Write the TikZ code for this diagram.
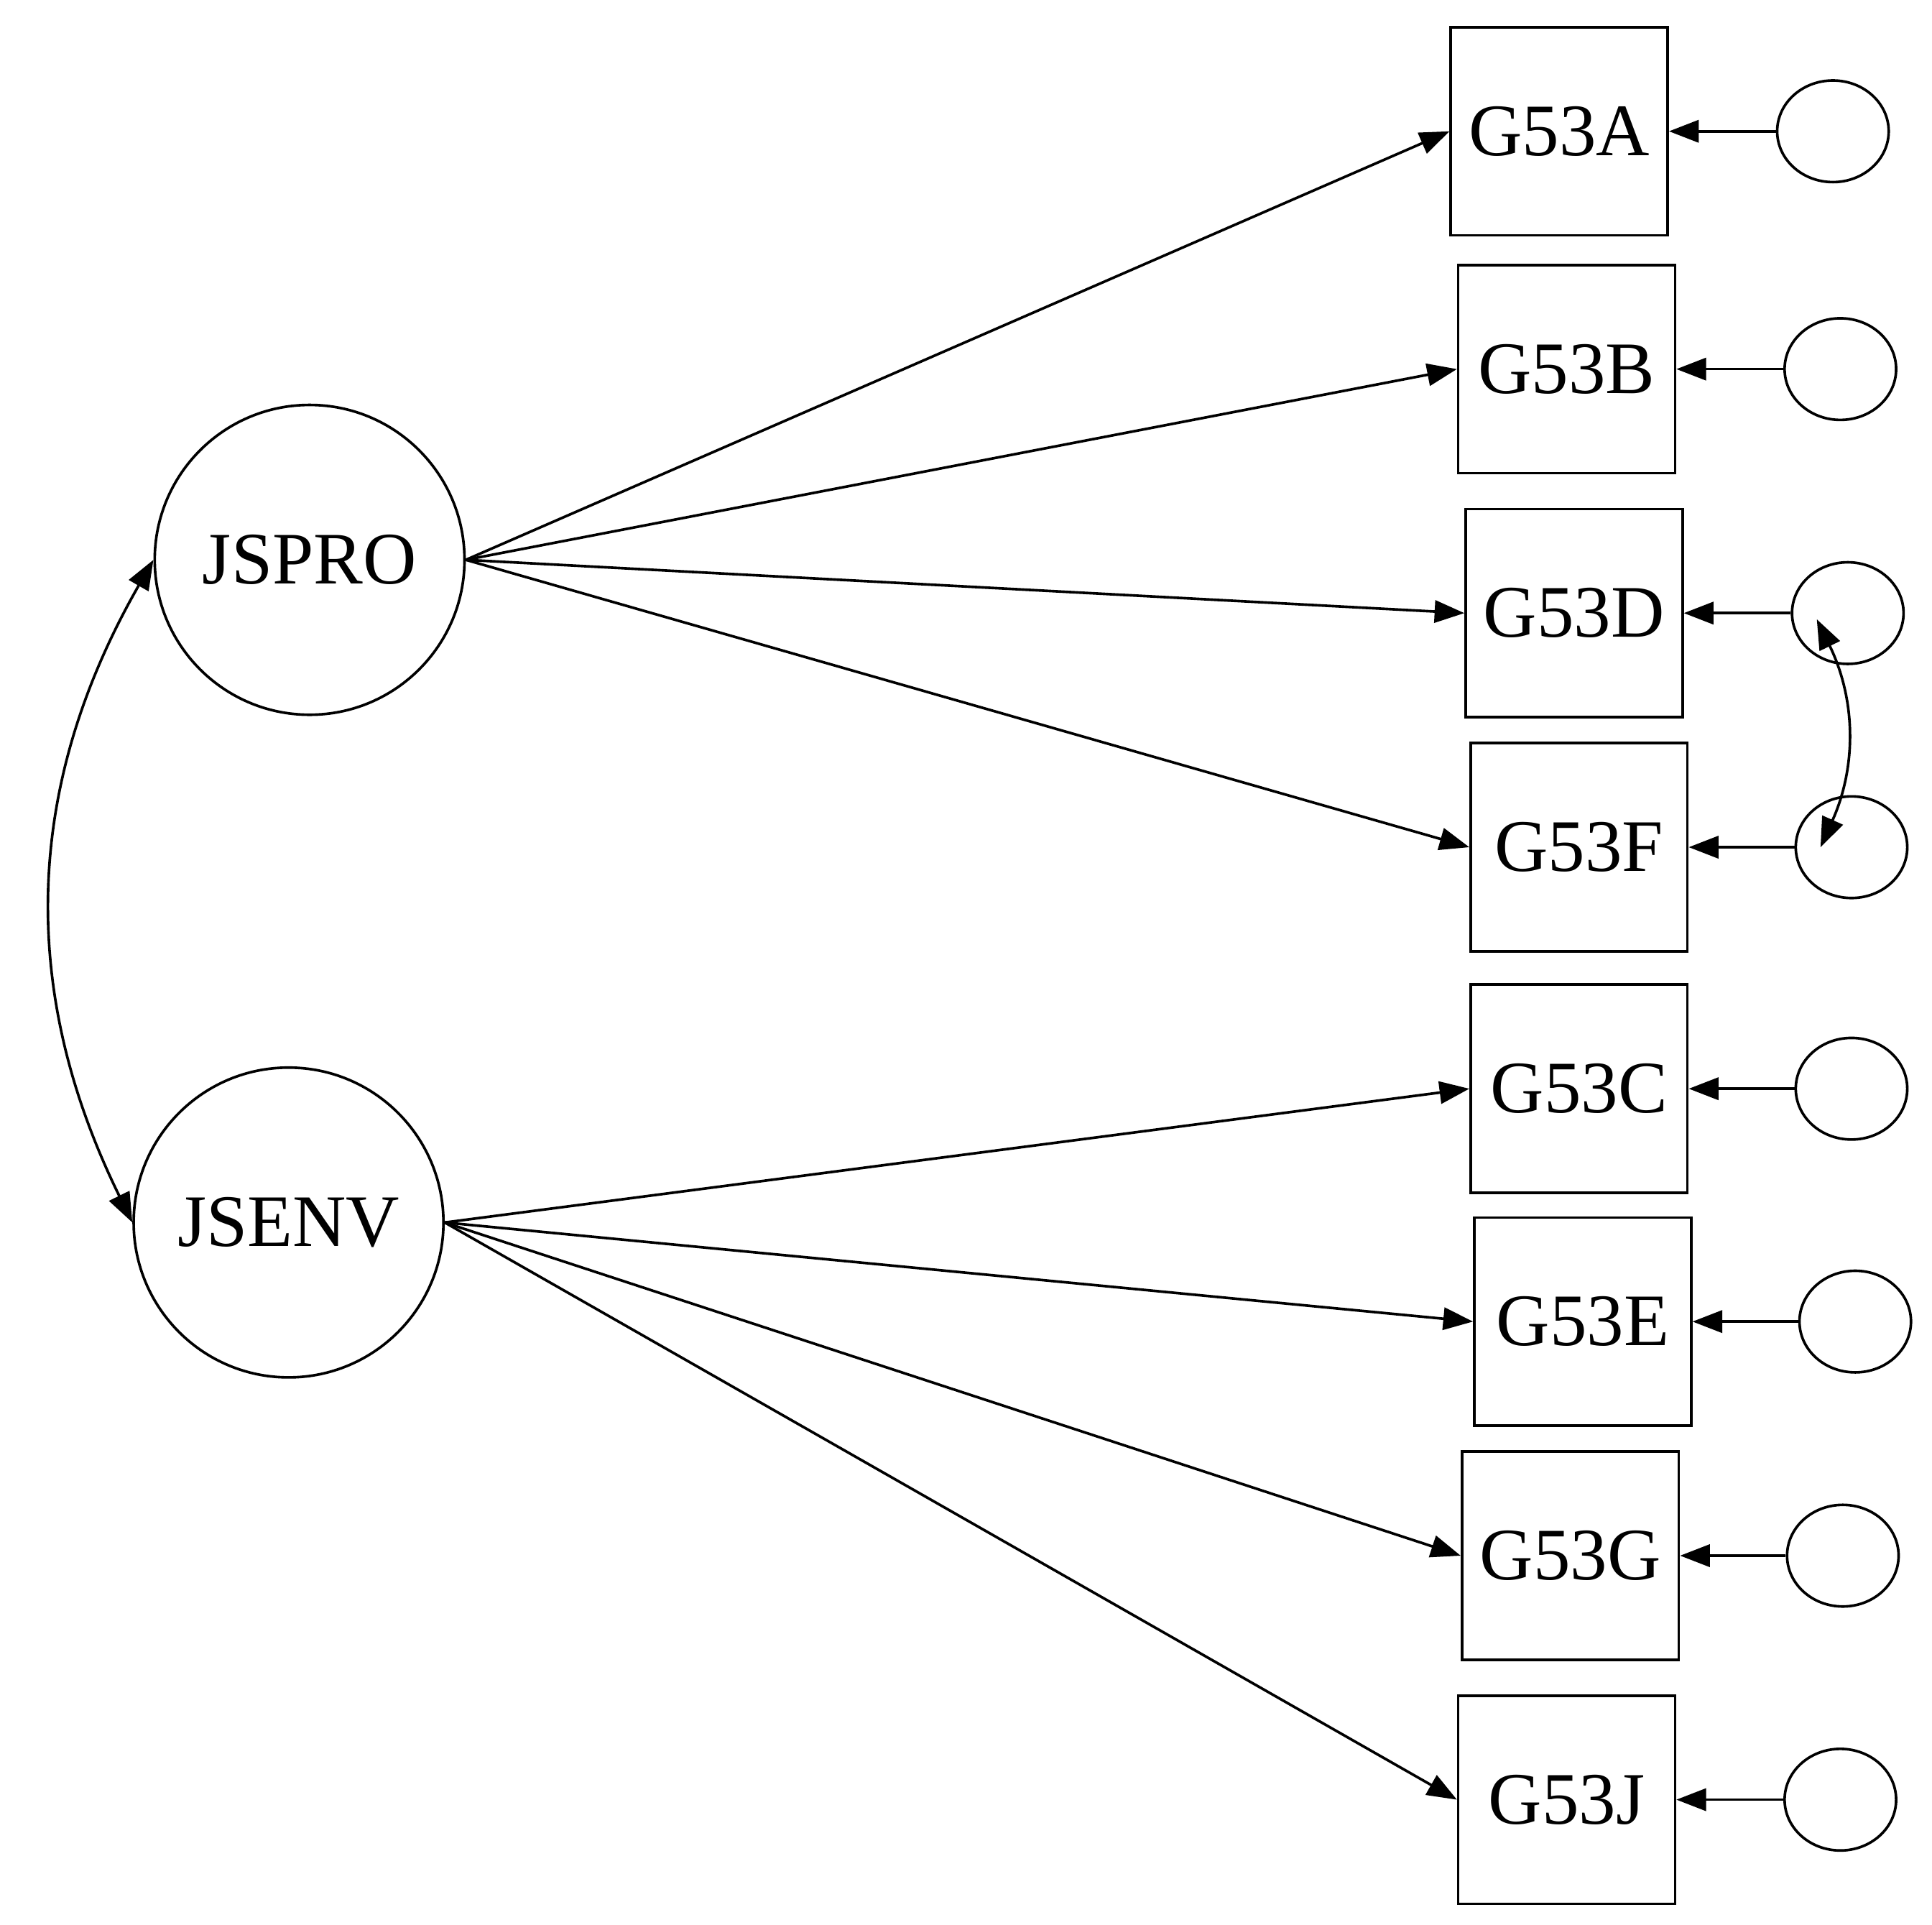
\documentclass[tikz,border=0pt]{standalone}
\usepackage{fontspec}
\setmainfont{Liberation Serif}
\usetikzlibrary{arrows.meta,shapes.geometric}
\tikzset{ lat/.style = { circle % latent
        , draw
        , minimum size = 2.5cm
        , font = \fontsize{17}{20}\selectfont
        }
        , obs/.style = { rectangle % indicator
        , draw
        , minimum width = 1.75cm
        , minimum height = 1.68cm
        , font = \fontsize{17}{20}\selectfont
        }
        , err/.style = { ellipse % residual
        , draw
        , minimum width = 0.9cm
        , minimum height = 0.82cm
        }
        }

\begin{document}
\begin{tikzpicture}[x=0.01cm, y=-0.01cm, line width=0.6pt,
        edge_style/.style={draw=black, -{Triangle[length=0.24cm,width=0.18cm]}},
        cov_style/.style={draw=black, {Triangle[length=0.24cm,width=0.18cm]}-{Triangle[length=0.24cm,width=0.18cm]}}]
        \useasboundingbox (0,0) rectangle (1560,1554);

        \node [lat](jspro) at (250,452) {JSPRO};
        \node [lat](jsenv) at (233,987) {JSENV};

        \node [obs](g53a) at (1259,106) {G53A};
        \node [obs](g53b) at (1265,298) {G53B};
        \node [obs](g53d) at (1271,495) {G53D};
        \node [obs](g53f) at (1275,684) {G53F};
        \node [obs](g53c) at (1275,879) {G53C};
        \node [obs](g53e) at (1278,1067) {G53E};
        \node [obs](g53g) at (1268,1256) {G53G};
        \node [obs](g53j) at (1265,1453) {G53J};

        \node [err](ea) at (1480,106) {};
        \node [err](eb) at (1486,298) {};
        \node [err](ed) at (1492,495) {};
        \node [err](ef) at (1495,684) {};
        \node [err](ec) at (1495,879) {};
        \node [err](ee) at (1498,1067) {};
        \node [err](eg) at (1488,1256) {};
        \node [err](ej) at (1486,1453) {};

        % loadings
        \draw [edge_style] (jspro.east) to (g53a.west);
        \draw [edge_style] (jspro.east) to (g53b.west);
        \draw [edge_style] (jspro.east) to (g53d.west);
        \draw [edge_style] (jspro.east) to (g53f.west);
        \draw [edge_style] (jsenv.east) to (g53c.west);
        \draw [edge_style] (jsenv.east) to (g53e.west);
        \draw [edge_style] (jsenv.east) to (g53g.west);
        \draw [edge_style] (jsenv.east) to (g53j.west);

        % residuals
        \draw [edge_style] (ea) to (g53a);
        \draw [edge_style] (eb) to (g53b);
        \draw [edge_style] (ed) to (g53d);
        \draw [edge_style] (ef) to (g53f);
        \draw [edge_style] (ec) to (g53c);
        \draw [edge_style] (ee) to (g53e);
        \draw [edge_style] (eg) to (g53g);
        \draw [edge_style] (ej) to (g53j);

        % covariances
        \draw [cov_style] (jspro.west) to[bend right=28] (jsenv.west);
        \draw [cov_style] ([xshift=-0.25cm,yshift=-0.05cm]ed.center) to[bend left=25] ([xshift=-0.25cm]ef.center);
\end{tikzpicture}
\end{document}
